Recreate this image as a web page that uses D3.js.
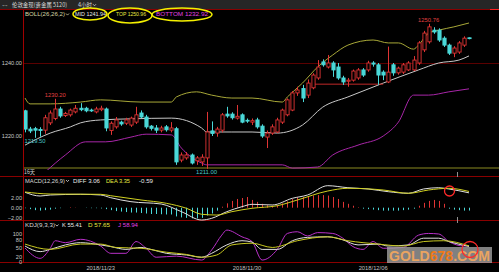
<!DOCTYPE html>
<html>
<head>
<meta charset="utf-8">
<script src="https://cdn.jsdelivr.net/npm/d3@7"></script>
<style>
body { margin:0; background:#000; }
svg { display:block; }
text { font-family: "Liberation Sans", Arial, sans-serif; }
</style>
</head>
<body>
<div id="chart"></div>
<script>
// 4 hour candles, London gold..
var opens = [1226.9,1221.9,1222.0,1221.8,1221.6,1223.6,1224.8,1227.4,1225.6,1225.8,
  1226.6,1227.6,1227.6,1227.1,1226.6,1227.2,1227.4,1221.5,1222.5,1223.8,
  1223.5,1223.0,1223.8,1226.3,1225.2,1222.7,1222.2,1221.6,1222.5,1221.6,
  1222.0,1213.4,1214.0,1214.8,1213.2,1212.9,1214.0,1221.4,1220.8,1221.6,
  1226.0,1226.0,1224.9,1225.8,1224.3,1223.8,1224.4,1222.7,1219.7,1220.8,
  1221.1,1223.8,1225.8,1227.1,1231.8,1233.0,1231.2,1233.2,1235.9,1240.3,
  1238.9,1240.0,1238.9,1235.9,1235.0,1235.3,1235.9,1238.1,1238.1,1240.0,
  1239.5,1237.5,1234.8,1239.5,1237.3,1237.5,1238.1,1238.1,1240.0,1243.6,
  1245.8,1249.0,1249.0,1246.8,1244.9,1242.7,1243.0,1244.9,1246.9];
var highs = [1227.2,1222.5,1222.5,1222.4,1225.8,1227.0,1230.2,1228.0,1226.6,1227.5,
  1228.5,1229.0,1228.0,1227.5,1228.0,1228.3,1227.8,1224.0,1225.2,1224.2,
  1225.0,1225.3,1228.0,1227.0,1225.8,1223.0,1223.0,1222.8,1223.0,1223.8,
  1222.5,1215.5,1215.6,1215.2,1214.5,1215.0,1226.6,1224.0,1222.5,1226.3,
  1228.0,1226.5,1228.5,1226.2,1224.8,1224.8,1225.0,1223.2,1221.5,1223.2,
  1225.0,1227.5,1230.3,1232.3,1233.5,1234.0,1235.5,1237.2,1240.8,1241.0,
  1242.2,1240.5,1240.0,1236.5,1235.9,1238.2,1238.6,1238.6,1240.6,1240.5,
  1240.0,1238.0,1244.5,1240.0,1239.0,1240.0,1240.5,1241.9,1246.0,1248.8,
  1250.76,1249.8,1249.5,1247.3,1245.3,1244.6,1246.0,1247.3,1247.0];
var lows = [1221.0,1220.8,1219.5,1219.8,1220.6,1223.0,1224.3,1225.0,1225.2,1225.3,
  1226.2,1226.8,1226.5,1226.6,1226.2,1226.8,1221.3,1220.3,1222.0,1222.8,
  1223.0,1222.5,1223.3,1224.9,1222.0,1221.5,1220.8,1221.0,1221.2,1221.0,
  1212.1,1212.8,1213.5,1212.2,1212.1,1211.8,1211.0,1220.0,1219.8,1221.0,
  1225.0,1224.5,1224.5,1223.5,1223.6,1223.0,1222.0,1219.5,1216.7,1220.3,
  1220.8,1223.3,1225.4,1226.8,1231.0,1229.3,1230.4,1232.8,1235.4,1239.0,
  1238.5,1236.2,1235.4,1234.0,1233.5,1234.9,1235.4,1236.2,1237.6,1239.0,
  1234.0,1235.3,1234.5,1236.5,1236.8,1237.0,1237.8,1237.8,1239.5,1243.0,
  1245.3,1248.0,1245.8,1244.4,1242.2,1241.6,1242.5,1244.4,1246.5];
var closes = [1221.9,1221.4,1221.6,1221.5,1225.0,1226.3,1227.4,1225.5,1226.2,1227.1,
  1227.6,1227.2,1226.9,1226.9,1227.4,1227.6,1222.2,1223.5,1224.4,1223.3,
  1224.4,1224.9,1225.8,1225.2,1222.5,1222.1,1221.6,1222.2,1221.7,1222.2,
  1212.9,1214.8,1214.8,1212.6,1214.0,1214.2,1221.1,1220.7,1221.9,1225.8,
  1225.5,1225.0,1225.4,1223.8,1224.1,1224.2,1222.5,1220.0,1220.8,1222.5,
  1224.4,1227.1,1229.9,1231.8,1232.6,1230.4,1234.5,1236.7,1238.9,1239.5,
  1240.0,1238.1,1235.9,1234.8,1235.3,1237.8,1238.1,1236.7,1240.0,1239.7,
  1236.7,1236.7,1237.5,1237.3,1238.6,1239.5,1240.0,1240.8,1245.5,1248.2,
  1249.9,1248.5,1246.3,1244.9,1242.7,1244.1,1245.5,1246.8,1246.7];

// BOLL(26,26,2) bands, [candle index, price]
var bollUpper = [[0,1230.4],[1,1228.8],[5,1228.8],[11,1229.3],[15,1229.9],[23,1229.3],[29,1229.3],
  [30,1230.7],[34,1232.1],[37,1231.2],[41,1230.4],[45,1230.4],[51,1229.3],[52,1230.7],[55,1234.5],
  [58,1238.9],[61,1242.2],[64,1244.9],[69,1246.3],[72,1245.5],[74,1245.5],[77,1243.8],[78,1244.9],
  [80,1248.2],[82,1249.0],[85,1249.9],[88,1250.96]];
var bollMid = [[0,1217.5],[5,1220.8],[9,1222.5],[11,1223.6],[15,1224.4],[21,1224.7],[29,1224.9],
  [35,1222.2],[36,1221.1],[41,1221.1],[45,1221.1],[50,1220.8],[55,1223.0],[59,1227.9],[64,1230.7],
  [71,1234.5],[78,1238.1],[82,1240.0],[86,1240.8],[88,1241.94]];
var bollLower = [[4,1210.1],[8,1214.8],[12,1218.4],[16,1218.4],[21,1219.7],[24,1220.5],[29,1220.3],
  [31,1216.7],[35,1212.6],[36,1212.1],[45,1212.1],[51,1212.1],[53,1211.2],[58,1211.5],[61,1214.8],
  [66,1217.5],[71,1220.0],[74,1223.8],[77,1231.2],[80,1231.2],[84,1232.1],[88,1232.92]];

// hand drawn support line: [from index, to index, price]
var supportLine = [57, 71, 1234.2];

// MACD(12,26,9)
var macdDiff = [[0,3.18],[3,2.41],[5,2.62],[11,2.76],[15,2.62],[17,2.06],[21,1.24],[27,0.76],
  [31,-0.82],[35,-2.54],[37,-2.19],[40,-0.82],[43,0.21],[45,0.70],[49,0.56],[53,1.94],[56,2.62],
  [60,4.54],[64,4.12],[68,3.86],[72,3.30],[76,2.97],[79,3.86],[82,4.12],[84,3.86],[88,3.06]];
var macdDea = [[0,3.24],[5,2.82],[15,2.76],[17,2.47],[23,1.59],[28,0.91],[32,-0.12],[35,-1.36],
  [38,-1.51],[41,-0.82],[45,-0.12],[50,0.41],[54,1.59],[60,3.44],[64,4.0],[71,3.65],[76,2.97],
  [80,3.65],[84,4.0],[88,3.35]];
var macdHist = [-0.1,-0.3,-0.5,-0.6,-0.5,-0.4,-0.2,-0.1,0,0.1,
  0.05,0,-0.05,-0.1,-0.1,-0.15,-0.3,-0.5,-0.7,-0.8,
  -0.9,-1.0,-1.0,-1.1,-1.2,-1.3,-1.3,-1.35,-1.4,-1.4,
  -1.8,-2.0,-2.1,-2.2,-2.2,-2.1,-1.6,-1.2,-0.6,0.2,
  0.9,1.4,1.8,2.0,2.2,1.6,1.2,0.8,0.5,0.4,
  0.5,0.9,1.3,1.8,2.1,2.2,2.3,2.5,2.6,2.6,
  2.5,2.2,1.8,1.2,0.8,0.4,0.1,-0.2,-0.3,-0.4,
  -0.5,-0.6,-0.6,-0.6,-0.6,-0.5,-0.4,-0.2,0.4,1.0,
  1.4,1.6,1.4,0.8,-0.2,-0.4,-0.5,-0.6,-0.59];

// KDJ(9,3,3)
var kdjK = [[0,57],[3,37],[5,45],[8,61],[11,69],[15,61],[17,55],[20,45],[23,52],[25,45],[28,31],
  [32,25],[35,17],[37,31],[40,61],[43,76],[45,71],[47,45],[50,45],[53,76],[56,88],[60,90],[63,79],
  [66,61],[70,64],[72,57],[76,61],[79,85],[82,85],[84,73],[88,55.41]];
var kdjD = [[0,64],[5,45],[11,64],[15,64],[18,52],[23,49],[28,35],[32,27],[35,17],[38,25],[41,61],
  [45,67],[49,52],[54,76],[60,90],[64,76],[70,64],[75,57],[79,73],[83,76],[88,57.65]];
var kdjJ = [[0,50],[3,13],[5,49],[6,76],[8,69],[11,81],[15,57],[17,31],[20,31],[22,73],[24,49],
  [26,17],[30,21],[35,7],[37,43],[39,96],[40,114],[43,90],[45,73],[47,7],[50,45],[52,102],[54,108],
  [56,93],[58,105],[61,102],[63,85],[65,55],[67,45],[69,73],[71,49],[75,52],[78,96],[80,102],
  [82,100],[84,73],[87,57],[88,58.94]];

// tick labels
var priceTicks = [1220, 1240];
var macdTicks = [2, 0, -2];
var kdjTicks = [100, 80, 50, 20, 0];
var dateTicks = [[15, "2018/11/23"], [44, "2018/11/30"], [69, "2018/12/06"]];

var UP = "#e03434", DOWN = "#4ad8d8", AXIS = "#8a0000";

var svg = d3.select("#chart").append("svg")
    .attr("width", 499)
    .attr("height", 272);

svg.append("rect").attr("width", 499).attr("height", 272).attr("fill", "#000");

var x = d3.scaleLinear().domain([0, 88]).range([25, 469]);
var yMain = d3.scaleLinear().domain([1220, 1240]).range([136, 63]);
var yMacd = d3.scaleLinear().domain([-2, 2]).range([217.4, 198]);
var yKdj = d3.scaleLinear().domain([0, 100]).range([262, 234]);

function label(sel, px, py, str, color, size, len, anchor) {
    var t = sel.append("text")
	.attr("x", px).attr("y", py)
	.attr("fill", color)
	.attr("font-size", size)
	.attr("text-anchor", anchor || "start")
	.text(str);
    if (len) t.attr("textLength", len).attr("lengthAdjust", "spacingAndGlyphs");
    return t;
}

function chevron(px, py, color) {
    svg.append("path")
	.attr("d", "M" + px + "," + py + " l1.5,1.6 l1.5,-1.6")
	.attr("fill", "none").attr("stroke", color).attr("stroke-width", 0.8);
}

// title bar
svg.append("rect").attr("width", 499).attr("height", 9).attr("fill", "#262626");
label(svg, 1, 7, "\u21d4", "#bbbbbb", 6, 8);
label(svg, 12, 7.3, "伦敦金现(贵金属 5120)", "#d8d8d8", 6, 55).style("font-family", "'Noto Sans CJK SC'");
label(svg, 78, 7.3, "4小时", "#d8d8d8", 6, 14).style("font-family", "'Noto Sans CJK SC'");
chevron(93, 4.2, "#cccccc");

// panel frame
var hlines = [[9.5, AXIS], [176.5, AXIS], [220.5, AXIS], [262.5, AXIS]];
hlines.forEach(function(h) {
    svg.append("line").attr("x1", 0).attr("x2", 499).attr("y1", h[0]).attr("y2", h[0])
	.attr("stroke", h[1]).attr("stroke-width", 1);
});
svg.append("line").attr("x1", 490).attr("x2", 499).attr("y1", 9.5).attr("y2", 9.5)
    .attr("stroke", "#ff2020");
svg.append("line").attr("x1", 23).attr("x2", 499).attr("y1", 168).attr("y2", 168)
    .attr("stroke", "#8a8a20").attr("stroke-width", 1.2);
svg.append("line").attr("x1", 23.5).attr("x2", 23.5).attr("y1", 10).attr("y2", 263)
    .attr("stroke", "#a00000");

// price grid + labels
svg.append("g").selectAll("line").data([1240]).enter().append("line")
    .attr("x1", 24).attr("x2", 499)
    .attr("y1", function(d) { return Math.round(yMain(d)) + 0.5; })
    .attr("y2", function(d) { return Math.round(yMain(d)) + 0.5; })
    .attr("stroke", "#5a0000");

var axisFont = 5.6;
var pAxis = svg.append("g").attr("transform", "translate(22,0)")
    .call(d3.axisLeft(yMain).tickValues(priceTicks).tickFormat(d3.format(".2f")).tickSize(0).tickPadding(0));
pAxis.select(".domain").remove();
pAxis.selectAll("text").attr("fill", "#c8c8c8").attr("font-size", axisFont).attr("font-family", "Liberation Sans");

var mAxis = svg.append("g").attr("transform", "translate(22,0)")
    .call(d3.axisLeft(yMacd).tickValues(macdTicks).tickFormat(d3.format(".2f")).tickSize(0).tickPadding(0));
mAxis.select(".domain").remove();
mAxis.selectAll("text").attr("fill", "#c8c8c8").attr("font-size", axisFont).attr("font-family", "Liberation Sans");

var kAxis = svg.append("g").attr("transform", "translate(22,0)")
    .call(d3.axisLeft(yKdj).tickValues(kdjTicks).tickFormat(d3.format("d")).tickSize(0).tickPadding(0));
kAxis.select(".domain").remove();
kAxis.selectAll("text").attr("fill", "#c8c8c8").attr("font-size", axisFont).attr("font-family", "Liberation Sans");

// date labels
svg.append("g").selectAll("text").data(dateTicks).enter().append("text")
    .attr("x", function(d) { return x(d[0]); })
    .attr("y", 269.5)
    .attr("text-anchor", "middle")
    .attr("fill", "#c0c0c0")
    .attr("font-size", 5.8)
    .text(function(d) { return d[1]; });

// clip the main panel
var defs = svg.append("defs");
defs.append("clipPath").attr("id", "mainClip").append("rect")
    .attr("x", 24).attr("y", 10).attr("width", 475).attr("height", 160);
var main = svg.append("g").attr("clip-path", "url(#mainClip)");

var lineMain = d3.line()
    .x(function(d) { return x(d[0]); })
    .y(function(d) { return yMain(d[1]); })
    .curve(d3.curveMonotoneX);

main.append("path").datum(bollUpper).attr("d", lineMain)
    .attr("fill", "none").attr("stroke", "#a8a838").attr("stroke-width", 1);
main.append("path").datum(bollMid).attr("d", lineMain)
    .attr("fill", "none").attr("stroke", "#c8c8c8").attr("stroke-width", 1);
main.append("path").datum(bollLower).attr("d", lineMain)
    .attr("fill", "none").attr("stroke", "#a826a8").attr("stroke-width", 1);

main.append("line")
    .attr("x1", x(supportLine[0])).attr("x2", x(supportLine[1]))
    .attr("y1", yMain(supportLine[2])).attr("y2", yMain(supportLine[2]))
    .attr("stroke", "#c02828").attr("stroke-width", 1);

// candles
var idx = d3.range(opens.length);
var cx = function(i) { return Math.round(x(i)) + 0.5; };

main.append("g").selectAll("line").data(idx).enter().append("line")
    .attr("x1", cx).attr("x2", cx)
    .attr("y1", function(i) { return yMain(highs[i]); })
    .attr("y2", function(i) { return yMain(lows[i]); })
    .attr("stroke", function(i) { return closes[i] >= opens[i] ? UP : DOWN; })
    .attr("stroke-width", 1);

main.append("g").selectAll("rect").data(idx).enter().append("rect")
    .attr("x", function(i) { return cx(i) - 1.6; })
    .attr("width", 3.2)
    .attr("y", function(i) { return yMain(Math.max(opens[i], closes[i])); })
    .attr("height", function(i) {
	return Math.max(0.8, Math.abs(yMain(opens[i]) - yMain(closes[i])));
    })
    .attr("fill", function(i) { return closes[i] >= opens[i] ? "#000" : DOWN; })
    .attr("stroke", function(i) { return closes[i] >= opens[i] ? UP : DOWN; })
    .attr("stroke-width", 0.9);

// high / low markers
var hiIdx = [6, 80], loIdx = [2, 36];
hiIdx.forEach(function(i) {
    label(svg, Math.max(x(i), 35), yMain(highs[i]) - 2, highs[i].toFixed(2), "#e04040", 5.6, 21, "middle");
});
loIdx.forEach(function(i) {
    label(svg, Math.max(x(i), 34), yMain(lows[i]) + 5, lows[i].toFixed(2), "#4ac8c8", 5.6, 21, "middle");
});

// BOLL header
label(svg, 25, 16.3, "BOLL(26,26,2)", "#d8d8a8", 5.8, 40);
chevron(66, 13.5, "#d8d8a8");
label(svg, 75, 16.3, "MID 1241.94", "#e8e8e8", 5.8, 31);
label(svg, 116, 16.3, "TOP 1250.96", "#e8e840", 5.8, 30);
label(svg, 156, 16.3, "BOTTOM 1232.92", "#e040e0", 5.8, 52);

var rings = [[90, 14, 17, 6], [130, 15.5, 22, 7.5], [182, 14.5, 30, 6.5]];
svg.append("g").selectAll("ellipse").data(rings).enter().append("ellipse")
    .attr("cx", function(d) { return d[0]; }).attr("cy", function(d) { return d[1]; })
    .attr("rx", function(d) { return d[2]; }).attr("ry", function(d) { return d[3]; })
    .attr("fill", "none").attr("stroke", "#f4f000").attr("stroke-width", 1.5);

label(svg, 24, 173.8, "16天", "#d0d0d0", 5.6, 11).style("font-family", "'Noto Sans CJK SC'");

// MACD panel
label(svg, 25, 182.8, "MACD(12,26,9)", "#d8d8d8", 5.8, 40);
chevron(66, 180, "#d8d8d8");
label(svg, 73, 182.8, "DIFF 3.06", "#e8e8e8", 5.8, 27);
label(svg, 106, 182.8, "DEA 3.35", "#e8e840", 5.8, 24);
label(svg, 139, 182.8, "-0.59", "#e8e8e8", 5.8, 14);

svg.append("g").selectAll("line").data(idx).enter().append("line")
    .attr("x1", cx).attr("x2", cx)
    .attr("y1", yMacd(0))
    .attr("y2", function(i) { return yMacd(macdHist[i]); })
    .attr("stroke", function(i) { return macdHist[i] >= 0 ? UP : DOWN; })
    .attr("stroke-width", 1);

var lineMacd = d3.line()
    .x(function(d) { return x(d[0]); })
    .y(function(d) { return yMacd(d[1]); })
    .curve(d3.curveMonotoneX);
svg.append("path").datum(macdDiff).attr("d", lineMacd)
    .attr("fill", "none").attr("stroke", "#e0e0e0").attr("stroke-width", 1);
svg.append("path").datum(macdDea).attr("d", lineMacd)
    .attr("fill", "none").attr("stroke", "#d0d020").attr("stroke-width", 1);

// KDJ panel
label(svg, 25, 227.3, "KDJ(9,3,3)", "#d8d8d8", 5.8, 30);
chevron(55.5, 224.5, "#d8d8d8");
label(svg, 62, 227.3, "K 55.41", "#e8e8e8", 5.8, 20);
label(svg, 88, 227.3, "D 57.65", "#e8e840", 5.8, 22);
label(svg, 118, 227.3, "J 58.94", "#e040e0", 5.8, 20);

var lineKdj = d3.line()
    .x(function(d) { return x(d[0]); })
    .y(function(d) { return yKdj(d[1]); })
    .curve(d3.curveMonotoneX);
svg.append("path").datum(kdjJ).attr("d", lineKdj)
    .attr("fill", "none").attr("stroke", "#b830c8").attr("stroke-width", 1);
svg.append("path").datum(kdjK).attr("d", lineKdj)
    .attr("fill", "none").attr("stroke", "#e0e0e0").attr("stroke-width", 1);
svg.append("path").datum(kdjD).attr("d", lineKdj)
    .attr("fill", "none").attr("stroke", "#c8c820").attr("stroke-width", 1);

// crosshair stubs
[[172, 177], [217, 223]].forEach(function(s) {
    svg.append("line").attr("x1", 457.5).attr("x2", 457.5).attr("y1", s[0]).attr("y2", s[1])
	.attr("stroke", "#909090");
});

// watermark
svg.append("rect").attr("x", 387).attr("y", 247).attr("width", 105).attr("height", 16)
    .attr("fill", "#a4a4a4").attr("opacity", 0.78);
var wm = svg.append("text").attr("x", 389).attr("y", 261)
    .attr("font-size", 14).attr("font-weight", "bold")
    .attr("textLength", 101).attr("lengthAdjust", "spacingAndGlyphs");
wm.append("tspan").attr("fill", "#eaa460").text("GOLD");
wm.append("tspan").attr("fill", "#f07a18").text("678");
wm.append("tspan").attr("fill", "#eaa460").text(".COM");

// red rings
var marks = [[449.5, 191, 5], [470, 249.5, 8]];
svg.append("g").selectAll("circle").data(marks).enter().append("circle")
    .attr("cx", function(d) { return d[0]; }).attr("cy", function(d) { return d[1]; })
    .attr("r", function(d) { return d[2]; })
    .attr("fill", "none").attr("stroke", "#ff2a2a").attr("stroke-width", 1.3);
</script>
</body>
</html>
